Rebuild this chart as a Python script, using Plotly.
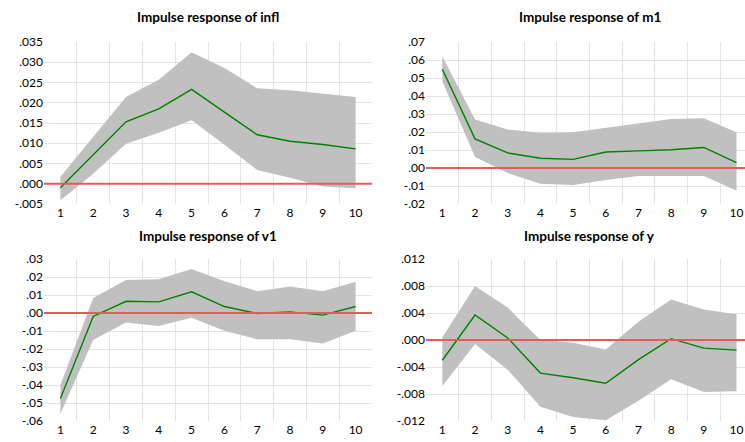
import plotly.graph_objects as go

periods = [1, 2, 3, 4, 5, 6, 7, 8, 9, 10]

infl_resp = [-0.0010, 0.0072, 0.0153, 0.0185, 0.0233, 0.0177, 0.0121, 0.0105, 0.0097, 0.0086]
infl_upper = [0.0017, 0.0116, 0.0214, 0.0257, 0.0325, 0.0286, 0.0236, 0.0231, 0.0222, 0.0214]
infl_lower = [-0.0041, 0.0025, 0.0099, 0.0126, 0.0157, 0.0096, 0.0034, 0.0015, -0.0007, -0.0011]

m1_resp = [0.0549, 0.0162, 0.0084, 0.0054, 0.0048, 0.0089, 0.0095, 0.0101, 0.0114, 0.0030]
m1_upper = [0.0620, 0.0270, 0.0214, 0.0196, 0.0199, 0.0222, 0.0248, 0.0272, 0.0277, 0.0199]
m1_lower = [0.0482, 0.0061, -0.0028, -0.0088, -0.0095, -0.0067, -0.0045, -0.0045, -0.0045, -0.0125]

v1_resp = [-0.0475, -0.0019, 0.0065, 0.0062, 0.0118, 0.0036, -0.0003, 0.0006, -0.0012, 0.0036]
v1_upper = [-0.0400, 0.0084, 0.0184, 0.0188, 0.0244, 0.0177, 0.0121, 0.0147, 0.0121, 0.0173]
v1_lower = [-0.0560, -0.0150, -0.0053, -0.0072, -0.0027, -0.0098, -0.0146, -0.0146, -0.0169, -0.0098]

y_resp = [-0.0030, 0.0037, 0.0003, -0.0049, -0.0056, -0.0064, -0.0029, 0.0002, -0.0012, -0.0015]
y_upper = [0.0004, 0.0080, 0.0048, 0.0000, -0.0004, -0.0014, 0.0027, 0.0060, 0.0045, 0.0038]
y_lower = [-0.0068, -0.0006, -0.0044, -0.0099, -0.0114, -0.0119, -0.0090, -0.0058, -0.0077, -0.0076]

infl_tickvals = [-0.005, 0.0, 0.005, 0.010, 0.015, 0.020, 0.025, 0.030, 0.035]
infl_ticktext = ["-.005", ".000", ".005", ".010", ".015", ".020", ".025", ".030", ".035"]
m1_tickvals = [-0.02, -0.01, 0.0, 0.01, 0.02, 0.03, 0.04, 0.05, 0.06, 0.07]
m1_ticktext = ["-.02", "-.01", ".00", ".01", ".02", ".03", ".04", ".05", ".06", ".07"]
v1_tickvals = [-0.06, -0.05, -0.04, -0.03, -0.02, -0.01, 0.0, 0.01, 0.02, 0.03]
v1_ticktext = ["-.06", "-.05", "-.04", "-.03", "-.02", "-.01", ".00", ".01", ".02", ".03"]
y_tickvals = [-0.012, -0.008, -0.004, 0.0, 0.004, 0.008, 0.012]
y_ticktext = ["-.012", "-.008", "-.004", ".000", ".004", ".008", ".012"]

titles = ["Impulse response of infl", "Impulse response of m1",
          "Impulse response of v1", "Impulse response of y"]

W, H = 745, 442
FONT = "Lato"

panels = [
    dict(resp=infl_resp, up=infl_upper, lo=infl_lower, tv=infl_tickvals, tt=infl_ticktext,
         xpx=(44, 372), ypx=(42, 204), xr=[0.5, 10.5], title_y=17),
    dict(resp=m1_resp, up=m1_upper, lo=m1_lower, tv=m1_tickvals, tt=m1_ticktext,
         xpx=(426, 745), ypx=(42, 204), xr=[0.5, 10.26], title_y=17, full_right=753),
    dict(resp=v1_resp, up=v1_upper, lo=v1_lower, tv=v1_tickvals, tt=v1_ticktext,
         xpx=(44, 372), ypx=(259, 421), xr=[0.5, 10.5], title_y=236),
    dict(resp=y_resp, up=y_upper, lo=y_lower, tv=y_tickvals, tt=y_ticktext,
         xpx=(426, 745), ypx=(259, 421), xr=[0.5, 10.26], title_y=236, full_right=753),
]

fig = go.Figure()
layout = dict(width=W, height=H, margin=dict(l=0, r=0, t=0, b=0),
              paper_bgcolor="white", plot_bgcolor="white", showlegend=False,
              font=dict(family=FONT, size=12, color="#000000"))
annotations = []
shapes = []

for i, p in enumerate(panels):
    n = i + 1
    xa = "x" if n == 1 else f"x{n}"
    ya = "y" if n == 1 else f"y{n}"
    band_x = periods + periods[::-1]
    band_y = p["up"] + p["lo"][::-1]
    fig.add_trace(go.Scatter(x=band_x, y=band_y, fill="toself", fillcolor="#c0c0c0",
                             line=dict(width=0), mode="lines", xaxis=xa, yaxis=ya,
                             hoverinfo="skip"))
    fig.add_trace(go.Scatter(x=periods, y=p["resp"], mode="lines",
                             line=dict(color="#008000", width=1.4), xaxis=xa, yaxis=ya))
    x0, x1 = p["xpx"]
    y0, y1 = p["ypx"]
    xkey = "xaxis" if n == 1 else f"xaxis{n}"
    ykey = "yaxis" if n == 1 else f"yaxis{n}"
    layout[xkey] = dict(domain=[x0 / W, x1 / W], range=p["xr"], anchor=ya,
                        tickvals=periods, ticktext=[str(v) for v in periods],
                        showgrid=False, zeroline=False, showline=False, ticks="",
                        automargin=False, tickfont=dict(size=12),
                        minor=dict(tickvals=[v + 0.5 for v in periods], showgrid=True,
                                   gridcolor="#e4e4e4", gridwidth=1, ticks=""))
    layout[ykey] = dict(domain=[1 - y1 / H, 1 - y0 / H], range=[p["tv"][0], p["tv"][-1]],
                        anchor=xa, tickvals=p["tv"], ticktext=p["tt"], showgrid=True,
                        gridcolor="#e4e4e4", gridwidth=1, zeroline=False, showline=False,
                        ticks="", automargin=False, tickfont=dict(size=12))
    shapes.append(dict(type="line", xref=f"{xa} domain", yref=ya, x0=0, x1=1, y0=0, y1=0,
                       line=dict(color="#e85a5a", width=2), layer="above"))
    full_right = p.get("full_right", x1)
    annotations.append(dict(text=titles[i], xref="paper", yref="paper",
                            x=(x0 + full_right) / 2 / W, y=1 - p["title_y"] / H,
                            xanchor="center", yanchor="middle", showarrow=False,
                            font=dict(family=FONT, size=13.5, color="#000000", weight="bold")))

layout["annotations"] = annotations
layout["shapes"] = shapes
fig.update_layout(**layout)
fig.write_html("out.html", config={"displayModeBar": False},
               post_script="document.body.style.margin='0';document.body.style.overflow='hidden';")
